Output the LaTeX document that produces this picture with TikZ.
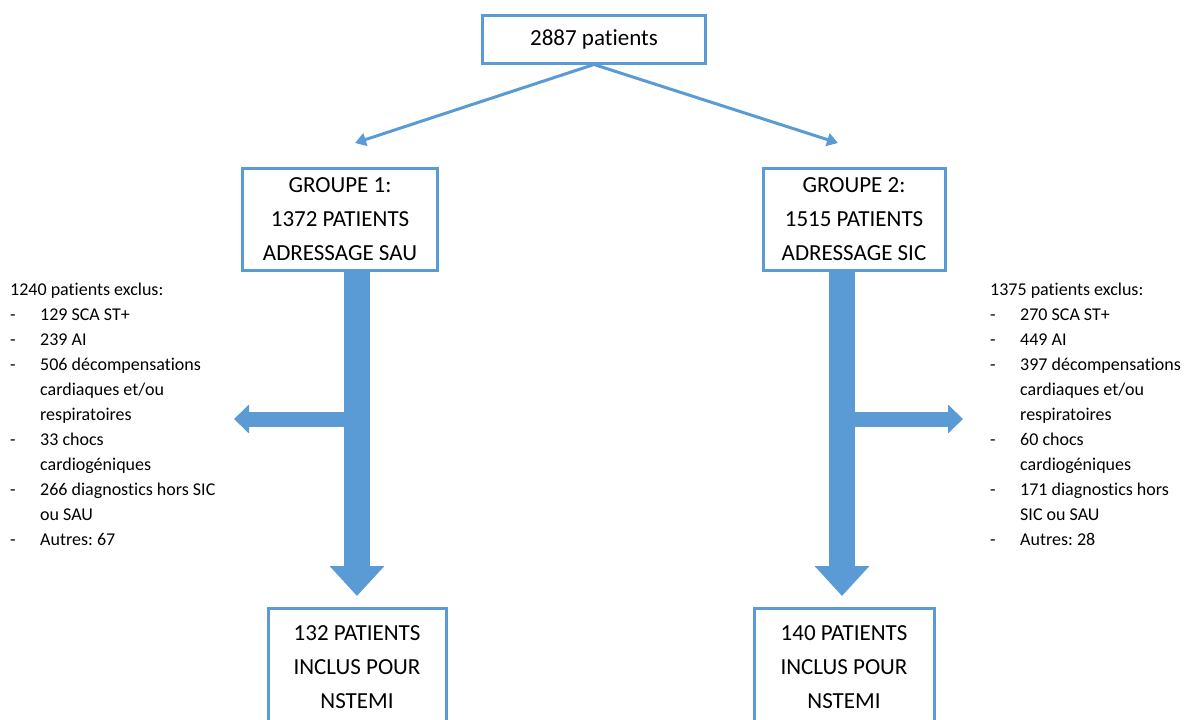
\documentclass[tikz,border=0pt]{standalone}
\usepackage{fontspec}
\setmainfont{Carlito}[Ligatures=CommonOff]
\usetikzlibrary{arrows.meta, positioning, calc}
\definecolor{flowblue}{RGB}{91,155,213}
\frenchspacing
\newcommand{\itm}{\makebox[30pt][l]{-}}
\newcommand{\nitm}{\makebox[30pt][l]{}}
\tikzset{
	box/.style={draw=flowblue, line width=3pt, fill=white, align=center, inner sep=0pt, font=\fontsize{23}{34}\selectfont},
	thin arrow/.style={draw=flowblue, line width=3pt, -{Triangle[length=11pt,width=13pt]}},
	fat arrow/.style={draw=flowblue, line width=26pt, -{Triangle[length=30pt,width=53pt]}},
	side arrow/.style={draw=flowblue, line width=15pt, -{Triangle[length=15pt,width=28pt]}},
	list/.style={align=left, inner sep=0pt, anchor=north west, font=\fontsize{18}{25}\selectfont},
}
\begin{document}
\begin{tikzpicture}[x=1pt, y=-1pt]
			\useasboundingbox (0,0) rectangle (1197,720);
			
			\node[box, minimum width=223pt, minimum height=48pt] (TOP) at (594,39) {2887 patients};
			\node[box, minimum width=195pt, minimum height=102pt] (GRP1) at (340,219) {GROUPE 1:\\1372 PATIENTS\\ADRESSAGE SAU};
			\node[box, minimum width=182pt, minimum height=102pt] (GRP2) at (854,219) {GROUPE 2:\\1515 PATIENTS\\ADRESSAGE SIC};
			\node[box, minimum width=178pt, anchor=north, inner ysep=17pt, text depth=60pt] (INC1) at (357,607) {132 PATIENTS\\INCLUS POUR\\NSTEMI};
			\node[box, minimum width=180pt, anchor=north, inner ysep=17pt, text depth=60pt] (INC2) at (844,607) {140 PATIENTS\\INCLUS POUR\\NSTEMI};
			
			\node[list] (EXC1) at (10,283) {1240 patients exclus:\\\itm 129 SCA ST+\\\itm 239 AI\\\itm 506 décompensations\\\nitm cardiaques et/ou\\\nitm respiratoires\\\itm 33 chocs\\\nitm cardiogéniques\\\itm 266 diagnostics hors SIC\\\nitm ou SAU\\\itm Autres: 67};
			\node[list] (EXC2) at (990,283) {1375 patients exclus:\\\itm 270 SCA ST+\\\itm 449 AI\\\itm 397 décompensations\\\nitm cardiaques et/ou\\\nitm respiratoires\\\itm 60 chocs\\\nitm cardiogéniques\\\itm 171 diagnostics hors\\\nitm SIC ou SAU\\\itm Autres: 28};
			
			\coordinate (IN1) at (355,143);
			\coordinate (IN2) at (838,143);
			\coordinate (J1) at (357,419);
			\coordinate (J2) at (842,419);
			\coordinate (OUT1) at (234,419);
			\coordinate (OUT2) at (963,419);
			
			\draw[thin arrow] (TOP.south) -- (IN1);
			\draw[thin arrow] (TOP.south) -- (IN2);
			
			\draw[side arrow] (J1) -- (OUT1);
			\draw[side arrow] (J2) -- (OUT2);
			\draw[fat arrow, shorten >=11pt] (INC1.north |- GRP1.south) -- (INC1.north);
			\draw[fat arrow, shorten >=11pt] (J2 |- GRP2.south) -- (J2 |- INC2.north);
			
		\end{tikzpicture}
\end{document}
